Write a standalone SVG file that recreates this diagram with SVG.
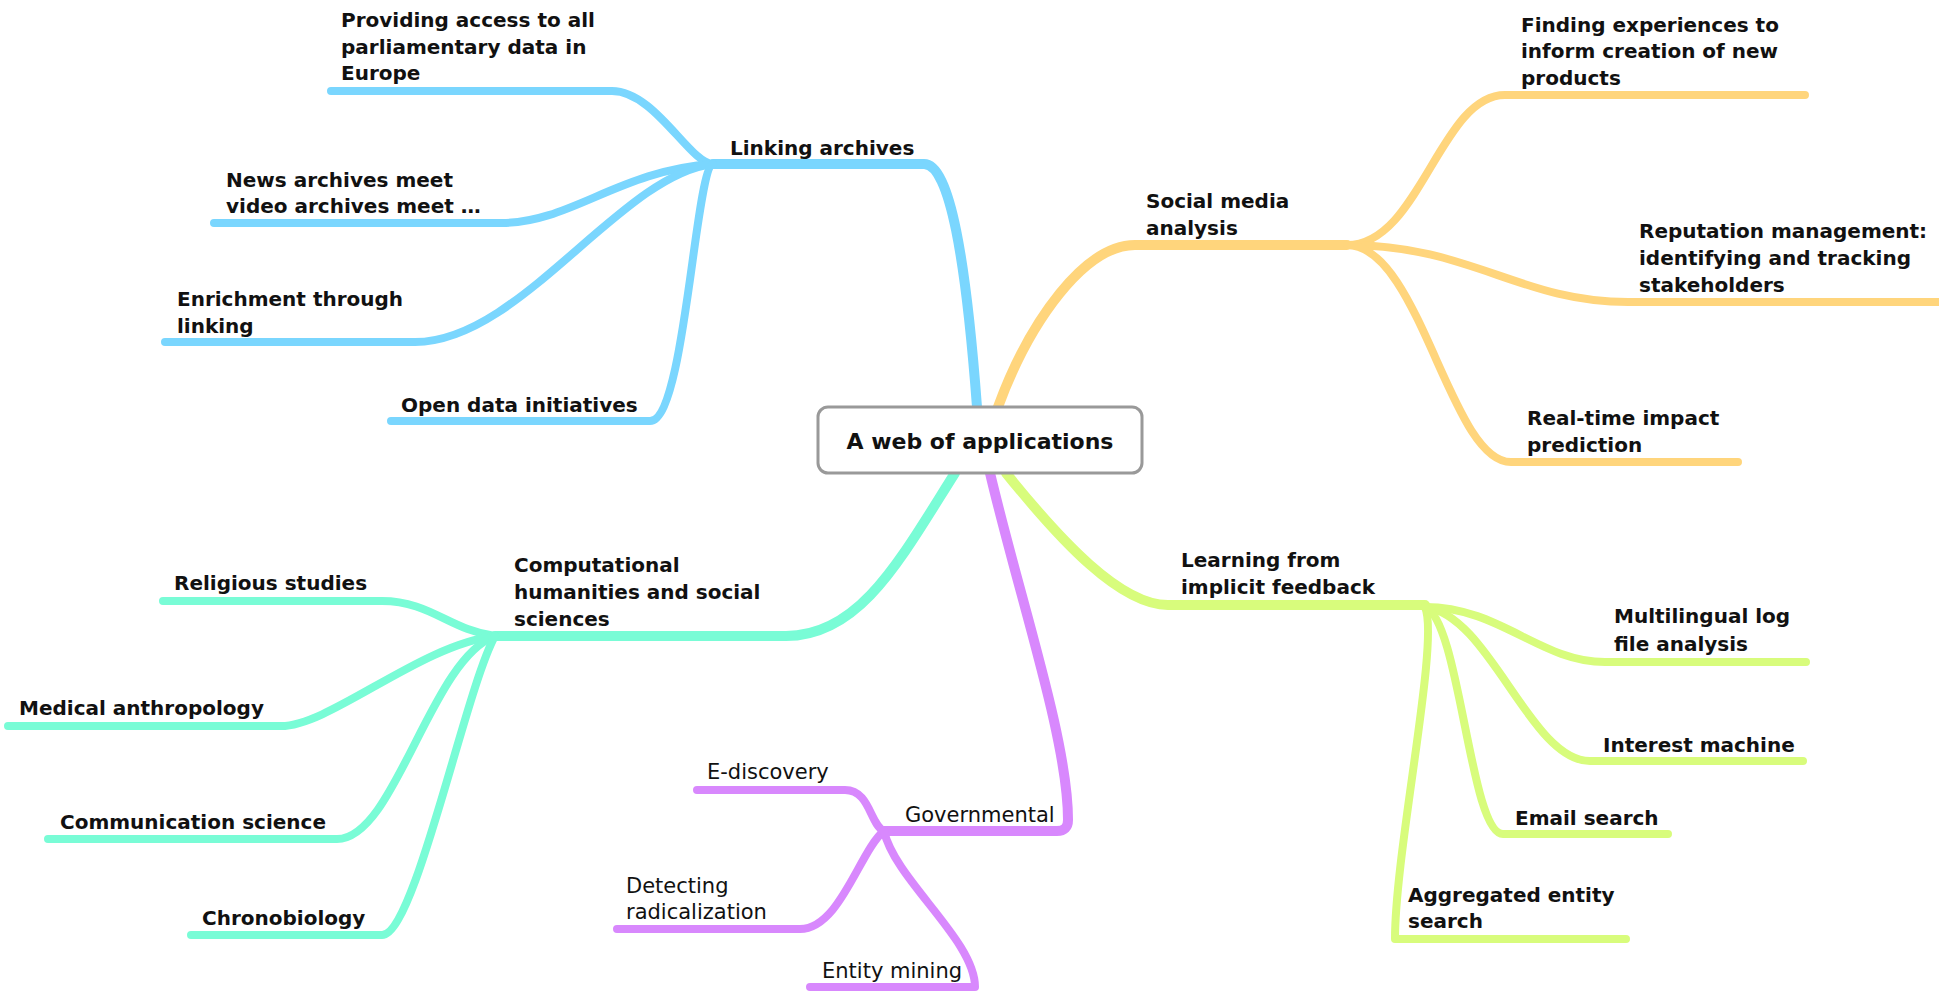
<svg xmlns="http://www.w3.org/2000/svg" width="1939" height="991" viewBox="0 0 1939 991">
<style>
.c{fill:none;stroke-linecap:round;stroke-linejoin:round}
.m{stroke-width:10}
.s{stroke-width:8}
.blue{stroke:#7AD6FE}
.orange{stroke:#FFD57C}
.teal{stroke:#79FCD6}
.purple{stroke:#D888FD}
.lime{stroke:#D8FC7C}
text{font-family:"DejaVu Sans","Liberation Sans",sans-serif;font-size:20px;fill:#111}
.b{font-weight:bold}
.r{font-weight:normal;font-size:21px}
.title{font-size:22px;font-weight:bold;text-anchor:middle}
</style>
<rect width="1939" height="991" fill="#fff"/>
<g id="connectors">
  <!-- Linking archives -->
  <path class="c m blue" d="M977 407 C966 260 950 164 924 164 L713 164"/>
  <path class="c s blue" d="M713 164 C690 164 655 91 612 91 L331 91"/>
  <path class="c s blue" d="M713 164 C620 170 570 223 502 223 L214 223"/>
  <path class="c s blue" d="M713 164 C620 175 520 342 415 342 L165 342"/>
  <path class="c s blue" d="M713 164 C695 170 685 421 650 421 L391 421"/>
  <!-- Social media -->
  <path class="c m orange" d="M998 407 C1030 320 1085 245 1135 245 L1347 245"/>
  <path class="c s orange" d="M1347 245 C1420 245 1440 95 1505 95 L1805 95"/>
  <path class="c s orange" d="M1347 245 C1470 245 1520 302 1628 302 L1939 302"/>
  <path class="c s orange" d="M1347 245 C1420 245 1450 462 1511 462 L1738 462"/>
  <!-- Computational -->
  <path class="c m teal" d="M955 473 C900 560 860 636 786 636 L495 636"/>
  <path class="c s teal" d="M495 636 C450 630 430 601 382 601 L163 601"/>
  <path class="c s teal" d="M495 636 C420 645 330 726 281 726 L8 726"/>
  <path class="c s teal" d="M495 636 C430 660 395 839 337 839 L48 839"/>
  <path class="c s teal" d="M495 636 C465 690 415 935 382 935 L191 935"/>
  <!-- Governmental -->
  <path class="c m purple" d="M990 473 C1020 600 1068 740 1068 820 Q1068 831 1057 831 L884 831"/>
  <path class="c s purple" d="M884 831 C870 825 870 790 845 790 L697 790"/>
  <path class="c s purple" d="M884 831 C860 850 840 929 800 929 L617 929"/>
  <path class="c s purple" d="M884 831 C895 880 975 940 975 987 L810 987"/>
  <!-- Learning -->
  <path class="c m lime" d="M1006 473 C1060 540 1120 605 1168 605 L1425 605"/>
  <path class="c s lime" d="M1425 607 C1500 607 1540 662 1605 662 L1806 662"/>
  <path class="c s lime" d="M1425 607 C1490 615 1530 761 1590 761 L1803 761"/>
  <path class="c s lime" d="M1425 607 C1460 620 1470 834 1503 834 L1668 834"/>
  <path class="c s lime" d="M1425 607 C1440 640 1395 850 1395 939 L1626 939"/>
</g>
<g id="central">
  <rect x="818" y="407" width="324" height="66" rx="10" fill="#fff" stroke="#999" stroke-width="3"/>
  <text class="title" x="980" y="449">A web of applications</text>
</g>
<g id="linking-archives"><text class="b" x="730" y="155">Linking archives</text></g>
<g id="providing-access"><text class="b" x="341" y="27">Providing access to all</text><text class="b" x="341" y="54">parliamentary data in</text><text class="b" x="341" y="80">Europe</text></g>
<g id="news-archives"><text class="b" x="226" y="187">News archives meet</text><text class="b" x="226" y="213">video archives meet …</text></g>
<g id="enrichment"><text class="b" x="177" y="306">Enrichment through</text><text class="b" x="177" y="333">linking</text></g>
<g id="open-data"><text class="b" x="401" y="412">Open data initiatives</text></g>
<g id="social-media"><text class="b" x="1146" y="208">Social media</text><text class="b" x="1146" y="235">analysis</text></g>
<g id="finding-experiences"><text class="b" x="1521" y="32">Finding experiences to</text><text class="b" x="1521" y="58">inform creation of new</text><text class="b" x="1521" y="85">products</text></g>
<g id="reputation"><text class="b" x="1639" y="238">Reputation management:</text><text class="b" x="1639" y="265">identifying and tracking</text><text class="b" x="1639" y="292">stakeholders</text></g>
<g id="real-time"><text class="b" x="1527" y="425">Real-time impact</text><text class="b" x="1527" y="452">prediction</text></g>
<g id="computational"><text class="b" x="514" y="572">Computational</text><text class="b" x="514" y="599">humanities and social</text><text class="b" x="514" y="626">sciences</text></g>
<g id="religious"><text class="b" x="174" y="590">Religious studies</text></g>
<g id="medical"><text class="b" x="19" y="715">Medical anthropology</text></g>
<g id="communication"><text class="b" x="60" y="829">Communication science</text></g>
<g id="chronobiology"><text class="b" x="202" y="925">Chronobiology</text></g>
<g id="governmental"><text class="r" x="905" y="822">Governmental</text></g>
<g id="e-discovery"><text class="r" x="707" y="779">E-discovery</text></g>
<g id="detecting"><text class="r" x="626" y="893">Detecting</text><text class="r" x="626" y="919">radicalization</text></g>
<g id="entity-mining"><text class="r" x="822" y="978">Entity mining</text></g>
<g id="learning"><text class="b" x="1181" y="567">Learning from</text><text class="b" x="1181" y="594">implicit feedback</text></g>
<g id="multilingual"><text class="b" x="1614" y="623">Multilingual log</text><text class="b" x="1614" y="651">file analysis</text></g>
<g id="interest"><text class="b" x="1603" y="752">Interest machine</text></g>
<g id="email"><text class="b" x="1515" y="825">Email search</text></g>
<g id="aggregated"><text class="b" x="1408" y="902">Aggregated entity</text><text class="b" x="1408" y="928">search</text></g>
</svg>
